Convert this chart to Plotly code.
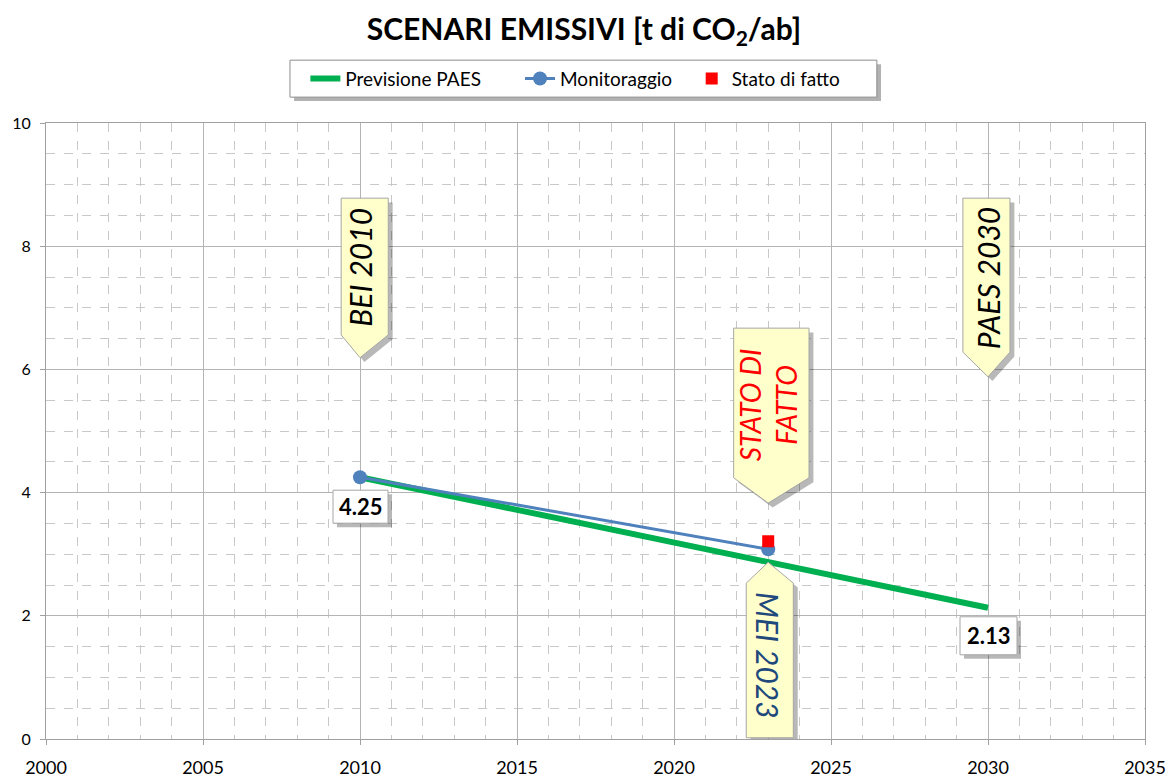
import plotly.graph_objects as go

# ---- data ----
years_paes = [2010, 2030]
paes = [4.25, 2.13]
years_mon = [2010, 2023]
monitoraggio = [4.25, 3.08]
years_stato = [2023]
stato = [3.21]
x_ticks = [2000, 2005, 2010, 2015, 2020, 2025, 2030, 2035]
y_ticks = [0, 2, 4, 6, 8, 10]
series_names = ["Previsione PAES", "Monitoraggio", "Stato di fatto"]

FONT = "Lato"
CALLOUT_FILL = "#FFFFCC"
CALLOUT_LINE = "#A6A6A6"
SHADOW = "rgba(0,0,0,0.28)"
NB = "\u00a0"

fig = go.Figure()

fig.add_trace(go.Scatter(x=years_paes, y=paes, mode="lines", name=series_names[0] + NB * 7,
                         line=dict(color="#00B050", width=6)))
fig.add_trace(go.Scatter(x=years_mon, y=monitoraggio, mode="lines+markers", name=series_names[1] + NB * 3,
                         line=dict(color="#4F81BD", width=3),
                         marker=dict(color="#4F81BD", size=14)))
fig.add_trace(go.Scatter(x=years_stato, y=stato, mode="markers", name=series_names[2],
                         marker=dict(color="#FF0000", size=12, symbol="square")))

# ---- callout shapes ----
def down_arrow(x0, x1, ytop, ybot, xc, ytip, dx=0.0, dy=0.0):
    return (f"M {x0+dx},{ytop+dy} L {x1+dx},{ytop+dy} L {x1+dx},{ybot+dy} "
            f"L {xc+dx},{ytip+dy} L {x0+dx},{ybot+dy} Z")

def up_arrow(x0, x1, ybottom, yshoulder, xc, ytip, dx=0.0, dy=0.0):
    return (f"M {x0+dx},{ybottom+dy} L {x1+dx},{ybottom+dy} L {x1+dx},{yshoulder+dy} "
            f"L {xc+dx},{ytip+dy} L {x0+dx},{yshoulder+dy} Z")

sdx, sdy = 0.14, -0.07
callouts = [
    ("down", (2009.4, 2010.9, 8.78, 6.56, 2010.0, 6.19)),
    ("down", (2021.9, 2024.3, 6.67, 4.24, 2023.0, 3.83)),
    ("up",   (2022.3, 2023.8, 0.02, 2.53, 2023.0, 2.87)),
    ("down", (2029.2, 2030.7, 8.78, 6.28, 2030.0, 5.88)),
]
shapes = []
for kind, c in callouts:
    f = down_arrow if kind == "down" else up_arrow
    shapes.append(dict(type="path", xref="x", yref="y", path=f(*c, dx=sdx, dy=sdy),
                       fillcolor=SHADOW, line=dict(width=0), layer="above"))
    shapes.append(dict(type="path", xref="x", yref="y", path=f(*c),
                       fillcolor=CALLOUT_FILL, line=dict(color=CALLOUT_LINE, width=1), layer="above"))

# data label boxes (pixel sized, anchored at the data points)
label_boxes = [(-27, 28, -46, -13), (-28, 29, -47, -9)]
for (xv, yv), (bx0, bx1, by0, by1) in zip(zip(years_paes, paes), label_boxes):
    shapes.append(dict(type="rect", xref="x", yref="y", xsizemode="pixel", ysizemode="pixel",
                       xanchor=xv, yanchor=yv, x0=bx0 + 4, x1=bx1 + 4, y0=by0 - 4, y1=by1 - 4,
                       fillcolor=SHADOW, line=dict(width=0), layer="above"))
    shapes.append(dict(type="rect", xref="x", yref="y", xsizemode="pixel", ysizemode="pixel",
                       xanchor=xv, yanchor=yv, x0=bx0, x1=bx1, y0=by0, y1=by1,
                       fillcolor="white", line=dict(color="#A6A6A6", width=1), layer="above"))

# legend frame + shadow
shapes.append(dict(type="rect", xref="paper", yref="paper",
                   x0=0.2257, x1=0.7598, y0=1.0357, y1=1.0955,
                   fillcolor="rgba(0,0,0,0.30)", line=dict(width=0), layer="above"))
shapes.append(dict(type="rect", xref="paper", yref="paper",
                   x0=0.222, x1=0.756, y0=1.042, y1=1.102,
                   fillcolor="white", line=dict(color="#8C8C8C", width=1), layer="above"))

annotations = [
    dict(x=2010.0, y=7.65, text="<i>BEI 2010</i>", textangle=-90, showarrow=False,
         font=dict(family=FONT, size=30, color="#000000")),
    dict(x=2023.0, y=5.42, text="<i>STATO DI<br>FATTO</i>", textangle=-90, showarrow=False,
         font=dict(family=FONT, size=28, color="#FF0000")),
    dict(x=2023.0, y=1.36, text="<i>MEI 2023</i>", textangle=90, showarrow=False,
         font=dict(family=FONT, size=30, color="#1F497D")),
    dict(x=2030.0, y=7.48, text="<i>PAES 2030</i>", textangle=-90, showarrow=False,
         font=dict(family=FONT, size=30, color="#000000")),
    dict(x=years_paes[0], y=paes[0], text=f"<b>{paes[0]:.2f}</b>", showarrow=False, yshift=-29.5, xshift=0.5,
         font=dict(family=FONT, size=22, color="#000000")),
    dict(x=years_paes[1], y=paes[1], text=f"<b>{paes[1]:.2f}</b>", showarrow=False, yshift=-28, xshift=0.5,
         font=dict(family=FONT, size=22, color="#000000")),
]

fig.update_layout(
    width=1168, height=778,
    margin=dict(l=46, r=23, t=123, b=39, autoexpand=False),
    paper_bgcolor="white", plot_bgcolor="white",
    title=dict(text="<b>SCENARI EMISSIVI [t di CO<sub>2</sub>/ab]</b>", x=0.5, xanchor="center",
               y=0.962, yanchor="middle", font=dict(family=FONT, size=30, color="#000000")),
    legend=dict(orientation="h", x=0.236, y=1.072, xanchor="left", yanchor="middle",
                bgcolor="rgba(0,0,0,0)", borderwidth=0,
                font=dict(family=FONT, size=19, color="#000000")),
    shapes=shapes, annotations=annotations,
    xaxis=dict(range=[2000, 2035], tickvals=x_ticks, showgrid=True, gridcolor="#B4B4B4", gridwidth=1,
               showline=True, linecolor="#A0A0A0", mirror=True, ticks="outside", ticklen=5,
               tickcolor="#A0A0A0", tickfont=dict(family=FONT, size=18, color="#000000"),
               ticklabelstandoff=7, zeroline=False, automargin=False,
               minor=dict(dtick=1, showgrid=True, gridcolor="#C8C8C8", griddash="dash", ticks="")),
    yaxis=dict(range=[0, 10], tickvals=y_ticks, showgrid=True, gridcolor="#B4B4B4", gridwidth=1,
               showline=True, linecolor="#A0A0A0", mirror=True, ticks="outside", ticklen=5,
               tickcolor="#A0A0A0", tickfont=dict(family=FONT, size=16, color="#000000"),
               ticklabelstandoff=6, zeroline=False, automargin=False,
               minor=dict(dtick=0.5, showgrid=True, gridcolor="#C8C8C8", griddash="dash", ticks="")),
)

fig.write_html("out.html", config={"displayModeBar": False},
               post_script="document.body.style.margin='0';")
